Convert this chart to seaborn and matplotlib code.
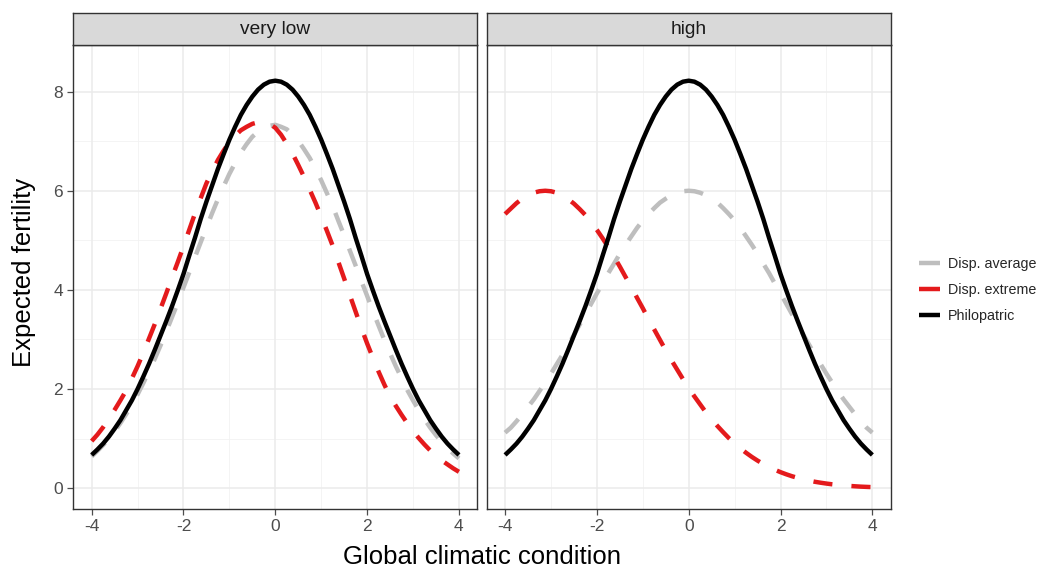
import matplotlib
matplotlib.use("Agg")
import matplotlib.pyplot as plt
from matplotlib.lines import Line2D
import seaborn as sns

sns.set_style("white")
plt.rcParams['font.family'] = ['Liberation Sans', 'DejaVu Sans']

# ---- data ----
climate = [-4.0, -3.875, -3.75, -3.625, -3.5, -3.375, -3.25, -3.125, -3.0, -2.875, -2.75,
           -2.625, -2.5, -2.375, -2.25, -2.125, -2.0, -1.875, -1.75, -1.625, -1.5, -1.375,
           -1.25, -1.125, -1.0, -0.875, -0.75, -0.625, -0.5, -0.375, -0.25, -0.125, 0.0,
           0.125, 0.25, 0.375, 0.5, 0.625, 0.75, 0.875, 1.0, 1.125, 1.25, 1.375, 1.5,
           1.625, 1.75, 1.875, 2.0, 2.125, 2.25, 2.375, 2.5, 2.625, 2.75, 2.875, 3.0,
           3.125, 3.25, 3.375, 3.5, 3.625, 3.75, 3.875, 4.0]

philopatric = [0.67, 0.78, 0.90, 1.04, 1.20, 1.37, 1.57, 1.77, 2.00, 2.25, 2.51, 2.79, 3.08,
               3.37, 3.67, 3.99, 4.32, 4.69, 5.05, 5.43, 5.78, 6.11, 6.44, 6.74, 7.03, 7.29,
               7.53, 7.73, 7.90, 8.04, 8.14, 8.20, 8.22, 8.20, 8.14, 8.04, 7.90, 7.73, 7.53,
               7.29, 7.03, 6.74, 6.44, 6.11, 5.78, 5.43, 5.05, 4.69, 4.32, 3.99, 3.67, 3.37,
               3.08, 2.79, 2.51, 2.25, 2.00, 1.77, 1.57, 1.37, 1.20, 1.04, 0.90, 0.78, 0.67]

avg_verylow = [0.64, 0.75, 0.87, 1.00, 1.15, 1.31, 1.49, 1.68, 1.89, 2.12, 2.36, 2.61, 2.88,
               3.16, 3.45, 3.74, 4.05, 4.35, 4.66, 4.96, 5.26, 5.55, 5.83, 6.09, 6.34, 6.56,
               6.77, 6.94, 7.09, 7.19, 7.28, 7.31, 7.33, 7.29, 7.24, 7.13, 7.01, 6.84, 6.66,
               6.44, 6.21, 5.95, 5.69, 5.39, 5.10, 4.79, 4.49, 4.18, 3.88, 3.57, 3.28, 2.99,
               2.72, 2.46, 2.22, 1.98, 1.77, 1.57, 1.39, 1.22, 1.07, 0.93, 0.81, 0.70, 0.60]

ext_verylow = [0.95, 1.08, 1.23, 1.40, 1.58, 1.77, 1.97, 2.21, 2.46, 2.73, 3.02, 3.31, 3.62,
               3.93, 4.25, 4.56, 4.88, 5.21, 5.54, 5.85, 6.15, 6.39, 6.62, 6.81, 6.98, 7.11,
               7.22, 7.29, 7.35, 7.38, 7.39, 7.35, 7.27, 7.13, 6.95, 6.75, 6.52, 6.28, 6.02,
               5.76, 5.48, 5.19, 4.89, 4.56, 4.23, 3.89, 3.56, 3.23, 2.92, 2.63, 2.35, 2.09,
               1.85, 1.66, 1.48, 1.31, 1.15, 1.01, 0.88, 0.76, 0.66, 0.56, 0.48, 0.40, 0.33]

avg_high = [1.12, 1.22, 1.35, 1.49, 1.64, 1.79, 1.96, 2.13, 2.31, 2.50, 2.69, 2.89, 3.09,
            3.30, 3.51, 3.72, 3.93, 4.13, 4.34, 4.53, 4.73, 4.91, 5.08, 5.25, 5.40, 5.53,
            5.65, 5.76, 5.84, 5.91, 5.96, 5.99, 6.00, 5.99, 5.96, 5.91, 5.84, 5.76, 5.65,
            5.53, 5.40, 5.25, 5.08, 4.91, 4.73, 4.53, 4.34, 4.13, 3.93, 3.72, 3.51, 3.30,
            3.09, 2.89, 2.69, 2.50, 2.31, 2.13, 1.96, 1.79, 1.64, 1.49, 1.35, 1.22, 1.12]

ext_high = [5.53, 5.64, 5.75, 5.84, 5.91, 5.96, 5.99, 6.00, 5.99, 5.96, 5.90, 5.83, 5.74,
            5.63, 5.51, 5.36, 5.21, 5.04, 4.86, 4.67, 4.47, 4.26, 4.06, 3.84, 3.63, 3.41,
            3.20, 2.99, 2.78, 2.58, 2.39, 2.20, 2.02, 1.85, 1.69, 1.53, 1.39, 1.255, 1.13,
            1.01, 0.904, 0.804, 0.714, 0.631, 0.556, 0.488, 0.427, 0.372, 0.323, 0.280,
            0.241, 0.208, 0.178, 0.152, 0.129, 0.110, 0.093, 0.078, 0.065, 0.055, 0.046,
            0.038, 0.031, 0.026, 0.021]

panels = ["very low", "high"]
series = ["Disp. average", "Disp. extreme", "Philopatric"]
x_ticks = [-4, -2, 0, 2, 4]
y_ticks = [0, 2, 4, 6, 8]

panel_data = {
    "very low": {"Disp. average": avg_verylow, "Disp. extreme": ext_verylow, "Philopatric": philopatric},
    "high": {"Disp. average": avg_high, "Disp. extreme": ext_high, "Philopatric": philopatric},
}

styles = {
    "Disp. average": dict(color="#BEBEBE", linestyle=(0, (4.3, 4.3))),
    "Disp. extreme": dict(color="#E41A1C", linestyle=(0, (4.3, 4.3))),
    "Philopatric": dict(color="black", linestyle="-"),
}

W, H = 1044, 569
fig = plt.figure(figsize=(W / 100, H / 100), dpi=100)
fig.patch.set_facecolor("white")

panel_left_px = [73.3, 486.7]
panel_w_px = 404
top_px, bottom_px = 45, 509
strip_top_px = 13.3
LW = 3.2

for i, pname in enumerate(panels):
    l = panel_left_px[i] / W
    ax = fig.add_axes([l, 1 - bottom_px / H, panel_w_px / W, (bottom_px - top_px) / H])
    ax.set_facecolor("white")
    for gx in [-3, -1, 1, 3]:
        ax.axvline(gx, color="#F2F2F2", lw=0.6, zorder=0)
    for gy in [1, 3, 5, 7]:
        ax.axhline(gy, color="#F2F2F2", lw=0.6, zorder=0)
    for gx in x_ticks:
        ax.axvline(gx, color="#EBEBEB", lw=1.1, zorder=0)
    for gy in y_ticks:
        ax.axhline(gy, color="#EBEBEB", lw=1.1, zorder=0)

    for s in series:
        sns.lineplot(x=climate, y=panel_data[pname][s], ax=ax, sort=False,
                     linewidth=LW, solid_capstyle="butt", dash_capstyle="butt",
                     solid_joinstyle="round", zorder=3, **styles[s])

    ax.set_xlim(-4.4, 4.4)
    ax.set_ylim(-0.42, 8.94)
    ax.set_xticks(x_ticks)
    ax.set_xticklabels([str(t) for t in x_ticks])
    ax.set_yticks(y_ticks)
    if i == 0:
        ax.set_yticklabels([str(t) for t in y_ticks])
    else:
        ax.set_yticklabels([])
    ax.tick_params(axis="both", labelsize=12.5, colors="#4D4D4D", length=4.5, width=0.9,
                   direction="out", pad=3, left=(i == 0), bottom=True)
    ax.set_xlabel("")
    ax.set_ylabel("")
    for sp in ax.spines.values():
        sp.set_visible(True)
        sp.set_color("#333333")
        sp.set_linewidth(1.0)

    # facet strip
    sax = fig.add_axes([l, 1 - top_px / H, panel_w_px / W, (top_px - strip_top_px) / H])
    sax.set_facecolor("#D9D9D9")
    sax.set_xticks([])
    sax.set_yticks([])
    for sp in sax.spines.values():
        sp.set_color("#333333")
        sp.set_linewidth(1.0)
    sax.text(0.5, 0.5, pname, ha="center", va="center", fontsize=13.8, color="#1A1A1A",
             transform=sax.transAxes)

fig.text((73.3 + 890.7) / 2 / W, 1 - 557 / H, "Global climatic condition",
         ha="center", va="center", fontsize=18.5, color="black")
fig.text(24 / W, 1 - 272 / H, "Expected fertility", ha="center", va="center",
         rotation=90, fontsize=18.5, color="black")

handles = [Line2D([0], [0], color=styles[s]["color"], lw=LW, solid_capstyle="butt") for s in series]
fig.legend(handles, series, loc="center left", bbox_to_anchor=(919 / W, 1 - 290 / H),
           frameon=False, fontsize=10.3, handlelength=1.5, handletextpad=0.55,
           labelspacing=0.87, borderpad=0, borderaxespad=0)

fig.savefig("out.png", dpi=100, facecolor="white")
